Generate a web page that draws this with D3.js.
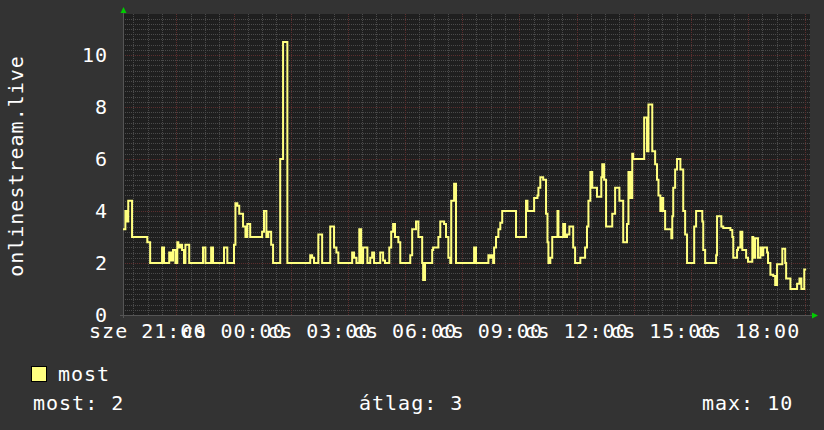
<!DOCTYPE html>
<html><head><meta charset="utf-8">
<script src="https://cdn.jsdelivr.net/npm/d3@7"></script>
<style>
body{margin:0;background:#333333;}
text{font-family:"DejaVu Sans Mono",monospace;fill:#ffffff;}
</style>
</head><body>
<svg id="chart" width="824" height="430"></svg>
<script>
// ---- data ----
const title = "onlinestream.live";
const seriesName = "most";
// minutes after "sze 20:00"; value holds until the next time
const minutes = [8,13,17,19,27,59,65,90,94,105,109,113,118,122,124,128,132,136,139,147,176,181,193,197,220,227,241,244,248,252,260,265,269,275,300,304,309,313,319,323,338,344,353,401,405,409,418,426,443,451,456,460,489,493,498,504,508,512,521,527,531,535,548,554,558,567,571,575,579,586,590,611,615,623,628,636,638,642,657,659,670,674,682,686,691,695,697,703,707,745,749,775,779,781,785,787,791,796,800,804,833,854,857,871,878,880,884,890,896,899,901,905,909,920,922,932,936,940,945,953,957,968,978,982,985,989,993,1003,1012,1014,1018,1022,1035,1041,1050,1058,1066,1069,1073,1077,1079,1102,1108,1111,1119,1125,1129,1132,1136,1138,1142,1146,1159,1161,1163,1167,1171,1178,1184,1188,1192,1207,1211,1224,1226,1230,1253,1255,1264,1268,1283,1287,1289,1297,1299,1304,1308,1316,1320,1329,1331,1335,1341,1346,1350,1352,1360,1362,1367,1373,1377,1381,1392,1398,1400,1409,1423,1428,1432,1438,1442];
const values = [3.3,4.0,3.6,4.4,3.0,2.8,2.0,2.6,2.0,2.4,2.1,2.5,2.0,2.8,2.6,2.7,2.5,2.0,2.7,2.0,2.6,2.0,2.6,2.0,2.6,2.0,2.7,4.3,4.2,3.9,3.4,3.0,3.5,3.0,3.2,4.0,3.0,3.2,2.7,2.0,6.0,10.5,2.0,2.3,2.2,2.0,3.1,2.0,3.4,2.6,2.4,2.0,2.4,2.2,2.0,3.3,2.0,2.6,2.0,2.2,2.4,2.0,2.4,2.1,2.0,2.6,3.2,3.5,3.0,2.8,2.0,2.3,3.3,3.6,3.0,2.0,1.35,2.0,2.5,2.6,3.0,3.6,3.5,3.0,2.2,2.0,4.4,5.05,2.0,2.6,2.0,2.3,2.2,2.3,2.0,2.6,3.0,3.3,3.55,4.0,3.0,4.4,4.0,4.5,4.6,4.9,5.3,5.2,3.9,2.8,2.0,2.2,3.0,4.0,3.0,3.5,3.0,3.1,3.4,2.6,2.0,2.2,2.6,3.4,4.4,5.5,4.9,4.55,5.3,5.8,5.2,3.4,3.9,4.9,4.4,2.8,3.5,5.5,4.5,6.2,6.0,7.6,6.3,8.1,6.3,5.8,5.2,4.6,4.0,4.5,4.0,3.3,2.95,3.8,4.9,5.6,6.0,5.6,4.0,3.1,2.0,3.4,4.0,3.6,2.5,2.0,2.3,3.8,3.4,3.35,3.27,3.0,2.2,2.5,2.6,3.2,2.5,2.2,2.05,3.0,2.2,2.95,2.2,2.6,2.3,2.6,2.4,2.0,1.55,1.5,1.15,1.95,2.55,2.0,1.4,1.0,1.2,1.4,1.0,1.75,1.75];
const yTicks = [0,2,4,6,8,10];
const xTickMinutes = [60,240,420,600,780,960,1140,1320];
const xTickLabels = ["sze 21:00","cs 00:00","cs 03:00","cs 06:00","cs 09:00","cs 12:00","cs 15:00","cs 18:00"];
const statLabels = ["most: 2","átlag: 3","max: 10"];

// ---- layout ----
const L = 123, R = 810, T = 14, B = 315;
const svg = d3.select("#chart");
const x = d3.scaleLinear().domain([8,1448]).range([123,809]);
const y = d3.scaleLinear().domain([0,11.58]).range([B,T]);

svg.append("rect").attr("x",0).attr("y",0).attr("width",824).attr("height",430).attr("fill","#333333");
svg.append("rect").attr("x",L).attr("y",T).attr("width",R-L).attr("height",B-T).attr("fill","#1f1f1f");

// grid
const g = svg.append("g").attr("shape-rendering","crispEdges");
const minorX = d3.range(30, 1448, 30).filter(m => m % 120 !== 0);
const majorX = d3.range(0, 1448, 120).filter(m => x(m) > L);
const minorY = d3.range(0.2, 11.58, 0.2).filter(v => Math.abs(v/2 - Math.round(v/2)) > 0.01);
const majorY = d3.range(2, 11.58, 2);

g.selectAll(".mx").data(minorX).join("line")
  .attr("x1", d => Math.round(x(d))+0.5).attr("x2", d => Math.round(x(d))+0.5)
  .attr("y1", T).attr("y2", B)
  .attr("stroke","#4a4a4a").attr("stroke-dasharray","1,1");
g.selectAll(".my").data(minorY).join("line")
  .attr("y1", d => Math.round(y(d))+0.5).attr("y2", d => Math.round(y(d))+0.5)
  .attr("x1", L).attr("x2", R)
  .attr("stroke","#4a4a4a").attr("stroke-dasharray","1,1");
g.selectAll(".Mx").data(majorX).join("line")
  .attr("x1", d => Math.round(x(d))+0.5).attr("x2", d => Math.round(x(d))+0.5)
  .attr("y1", T).attr("y2", B)
  .attr("stroke","#5c2e2e").attr("stroke-dasharray","1,1");
g.selectAll(".My").data(majorY).join("line")
  .attr("y1", d => Math.round(y(d))+0.5).attr("y2", d => Math.round(y(d))+0.5)
  .attr("x1", L).attr("x2", R)
  .attr("stroke","#5c2e2e").attr("stroke-dasharray","1,1");

// axes lines
g.append("line").attr("x1",L+0.5).attr("x2",L+0.5).attr("y1",T-4).attr("y2",B+3).attr("stroke","#555555");
g.append("line").attr("x1",L-3).attr("x2",R+3).attr("y1",B+0.5).attr("y2",B+0.5).attr("stroke","#555555");

// arrows
svg.append("path").attr("d", `M${L-2.5},${T-1} L${L+3.5},${T-1} L${L+0.5},${T-7} Z`).attr("fill","#00cc00");
svg.append("path").attr("d", `M${R+2},${B-2.5} L${R+2},${B+3.5} L${R+8},${B+0.5} Z`).attr("fill","#00cc00");

// line
const pts = minutes.map((m,i) => [m, values[i]]);
const line = d3.line().x(d => x(d[0])).y(d => y(d[1])).curve(d3.curveStepAfter);
svg.append("path").datum(pts).attr("d", line)
  .attr("fill","none").attr("stroke","#ffff80").attr("stroke-width",2).attr("stroke-linejoin","miter");

// y labels
const fs = 20, ls = 1;
svg.selectAll(".yl").data(yTicks).join("text")
  .attr("x", 108).attr("y", d => y(d) + 7)
  .attr("text-anchor","end").attr("font-size",fs).attr("letter-spacing",ls)
  .text(d => d);

// x labels
svg.selectAll(".xl").data(xTickMinutes).join("text")
  .attr("x", d => x(d)).attr("y", 338)
  .attr("text-anchor","middle").attr("font-size",fs).attr("letter-spacing",ls)
  .text((d,i) => xTickLabels[i]);

// title
svg.append("text").attr("transform","translate(23,166) rotate(-90)")
  .attr("text-anchor","middle").attr("font-size",fs).attr("letter-spacing",ls)
  .text(title);

// legend
svg.append("rect").attr("x",31.5).attr("y",366.5).attr("width",15).attr("height",15)
  .attr("fill","#ffff80").attr("stroke","#000000");
svg.append("text").attr("x",58).attr("y",381).attr("font-size",fs).attr("letter-spacing",ls).text(seriesName);

const statX = [33, 359, 702];
svg.selectAll(".st").data(statLabels).join("text")
  .attr("x", (d,i) => statX[i]).attr("y", 410)
  .attr("font-size",fs).attr("letter-spacing",ls).text(d => d);
</script>
</body></html>
